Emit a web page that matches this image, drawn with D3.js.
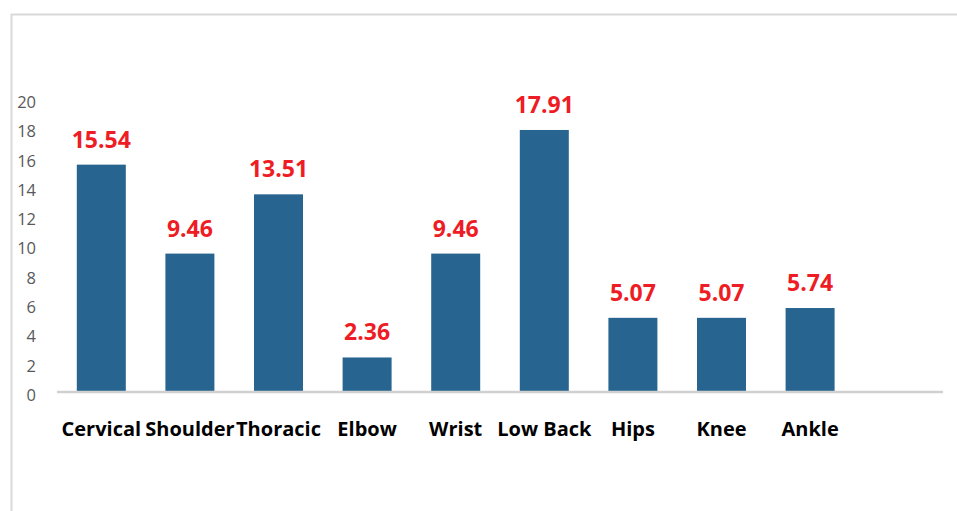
<!DOCTYPE html>
<html>
<head>
<meta charset="utf-8">
<script src="https://cdn.jsdelivr.net/npm/d3@7"></script>
<style>
    body { margin: 0; background: #fff; }
    svg { display: block; }
</style>
</head>
<body>
<script>
(function() {
    // chart data
    var categories = ["Cervical", "Shoulder", "Thoracic", "Elbow", "Wrist", "Low Back", "Hips", "Knee", "Ankle"];
    var values = [15.54, 9.46, 13.51, 2.36, 9.46, 17.91, 5.07, 5.07, 5.74];
    var yTicks = [0, 2, 4, 6, 8, 10, 12, 14, 16, 18, 20];

    var width = 957, height = 511;
    var font = "'Open Sans', 'Liberation Sans', sans-serif";

    var svg = d3.select("body").append("svg")
        .attr("width", width)
        .attr("height", height);

    // chart frame (cropped at right and bottom)
    svg.append("rect")
        .attr("x", 11.5)
        .attr("y", 14.5)
        .attr("width", width)
        .attr("height", height)
        .attr("fill", "none")
        .attr("stroke", "#d9d9d9")
        .attr("stroke-width", 2);

    // an empty slot is left after the last category, as in the original
    var x = d3.scaleBand()
        .domain(categories.concat([" "]))
        .range([57, 943])
        .paddingInner(0.447)
        .paddingOuter(0.2235);

    var y = d3.scaleLinear()
        .domain([0, 20])
        .range([392, 99.4]);

    // y tick labels (no axis line, no gridlines)
    svg.append("g")
        .selectAll("text")
        .data(yTicks)
        .enter().append("text")
        .attr("x", 36)
        .attr("y", function(d) { return y(d) + 3; })
        .attr("dy", "0.35em")
        .attr("text-anchor", "end")
        .attr("font-family", font)
        .attr("font-size", 16.5)
        .attr("fill", "#595959")
        .text(function(d) { return d; });

    // bars
    svg.append("g")
        .selectAll("rect")
        .data(values)
        .enter().append("rect")
        .attr("x", function(d, i) { return x(categories[i]); })
        .attr("y", function(d) { return y(d); })
        .attr("width", x.bandwidth())
        .attr("height", function(d) { return y(0) - y(d); })
        .attr("fill", "#27648f");

    // x axis
    var xAxis = svg.append("g")
        .attr("transform", "translate(0," + y(0) + ")")
        .call(d3.axisBottom(x).tickSize(0).tickFormat(function(d) { return d.trim(); }));

    xAxis.select(".domain")
        .attr("stroke", "#d0d0d0")
        .attr("stroke-width", 2.5)
        .attr("d", "M" + x.range()[0] + ",0H" + x.range()[1]);

    xAxis.selectAll("text")
        .attr("y", 44)
        .attr("dy", 0)
        .attr("font-family", font)
        .attr("font-size", 20)
        .attr("font-weight", "bold")
        .attr("fill", "#000");

    // value labels
    svg.append("g")
        .selectAll("text")
        .data(values)
        .enter().append("text")
        .attr("x", function(d, i) { return x(categories[i]) + x.bandwidth() / 2; })
        .attr("y", function(d) { return y(d) - 17; })
        .attr("text-anchor", "middle")
        .attr("font-family", font)
        .attr("font-size", 23)
        .attr("font-weight", "bold")
        .attr("fill", "#ee1c25")
        .text(function(d) { return d.toFixed(2); });
})();
</script>
</body>
</html>
